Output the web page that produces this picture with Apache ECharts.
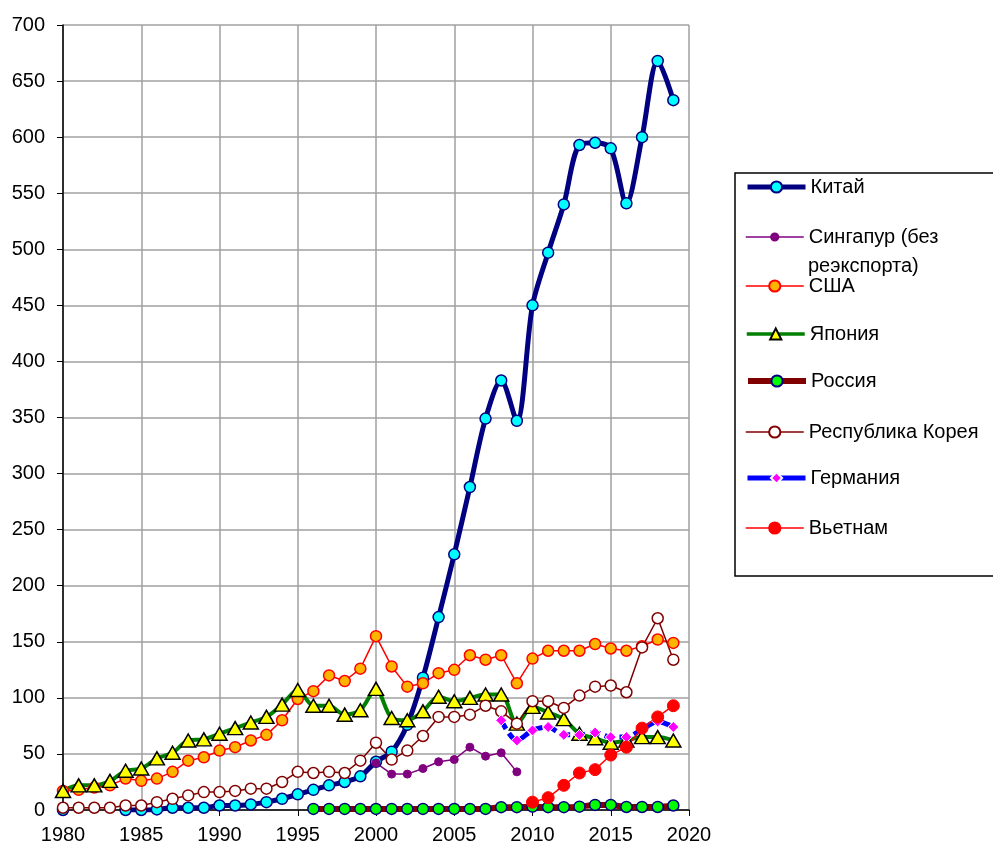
<!DOCTYPE html>
<head>
    <meta charset="utf-8">
    <title>ECharts</title>
</head>
<body style="margin:0">
    <div id="main" style="width:993px;height:845px"></div>
    <script src="https://cdn.jsdelivr.net/npm/echarts@6/dist/echarts.min.js"></script>
    <script type="text/javascript">

    // данные по годам (null = нет данных)
    var xTicks = [1980, 1985, 1990, 1995, 2000, 2005, 2010, 2015, 2020];

    var chinaStart = 1980;
    var china = [0, null, null, null, 0, 0, 0.5, 2, 2, 2, 4, 4, 5, 7, 10, 14, 18, 22, 25, 30,
                 43, 52, 76, 118, 172, 228, 288, 349, 383, 347, 450, 497, 540, 593, 595, 590, 541, 600, 668, 633];

    var singaporeStart = 2000;
    var singapore = [42, 32, 32, 37, 43, 45, 56, 48, 51, 34];

    var usaStart = 1980;
    var usa = [17, 18, 20, 22, 28, 26, 28, 34, 44, 47, 53, 56, 62, 67, 80, 99, 106, 120, 115, 126,
               155, 128, 110, 113, 122, 125, 138, 134, 138, 113, 135, 142, 142, 142, 148, 144, 142, 146, 152, 149];

    var japanStart = 1980;
    var japan = [17, 22, 22, 26, 35, 37, 46, 51, 62, 63, 68, 73, 78, 83, 94, 107, 93, 93, 85, 89,
                 108, 82, 80, 88, 101, 97, 100, 103, 103, 77, 92, 87, 81, 68, 64, 60, 62, 65, 65, 62];

    var russiaStart = 1996;
    var russia = [1, 1, 1, 1, 1, 1, 1, 1, 1, 1, 1, 1, 2.5, 2.5, 3, 2.5, 2.5, 3, 4.5, 4.5, 2.7, 2.7, 2.7, 4];

    var koreaStart = 1980;
    var korea = [2, 2, 2, 2, 4, 4, 7, 10, 13, 16, 16, 17, 19, 19, 25, 34, 33, 34, 33, 44,
                 60, 45, 53, 66, 83, 83, 85, 93, 88, 77, 97, 97, 91, 102, 110, 111, 105, 145, 171, 134];

    var germanyStart = 2008;
    var germany = [80, 62, 71, 74, 67, 67, 69, 65, 65, 72, 79, 74];

    var vietnamStart = 2010;
    var vietnam = [7, 11, 22, 33, 36, 49, 56, 73, 83, 93];

    function pairs(start, arr) {
        return arr.map(function (v, i) { return [start + i, v]; });
    }

    var FONT = 'Liberation Sans, Arial, sans-serif';

    var myChart = echarts.init(document.getElementById('main'));

    var names = ['Китай', 'Сингапур (без реэкспорта)', 'США', 'Япония', 'Россия',
                 'Республика Корея', 'Германия', 'Вьетнам'];
    var legendY = [187, 237, 286, 334, 381, 432, 478, 528];
    var legendLineW = [5, 1.5, 1.5, 3.5, 6, 1.5, 5, 1.5];
    var legendMark = [14, 9, 14, 14, 14, 14, 14, 14];

    var legends = names.map(function (n, i) {
        var l = {
            data: [n],
            left: 745,
            top: legendY[i] - 12,
            padding: 0,
            itemWidth: 58,
            itemHeight: legendMark[i],
            selectedMode: false,
            lineStyle: { width: legendLineW[i], type: 'solid' },
            textStyle: { fontFamily: FONT, fontSize: 20, color: '#000', lineHeight: 24 }
        };
        if (i === 1) {
            l.formatter = 'Сингапур (без';
        }
        return l;
    });

    var option = {
        animation: false,
        backgroundColor: '#fff',
        grid: { left: 63, top: 25, right: 304, bottom: 34 },
        legend: legends,
        graphic: [{
            type: 'rect',
            shape: { x: 735, y: 173, width: 270, height: 403 },
            style: { fill: 'none', stroke: '#000', lineWidth: 1.5 },
            z: -1
        }, {
            type: 'text',
            left: 808,
            top: 256,
            style: { text: 'реэкспорта)', font: '20px ' + FONT, fill: '#000' }
        }],
        xAxis: {
            type: 'value',
            min: xTicks[0],
            max: xTicks[xTicks.length - 1],
            interval: 5,
            axisLine: { lineStyle: { color: '#000', width: 1.5 } },
            axisTick: { show: true, length: 6, lineStyle: { color: '#000' } },
            axisLabel: { fontFamily: FONT, fontSize: 20, color: '#000', margin: 15,
                         formatter: function (v) { return String(v); } },
            splitLine: { show: true, lineStyle: { color: '#a0a0a0', width: 1.5 } }
        },
        yAxis: {
            type: 'value',
            min: 0,
            max: 700,
            interval: 50,
            axisLine: { show: true, lineStyle: { color: '#000', width: 1.5 } },
            axisTick: { show: true, length: 6, lineStyle: { color: '#000' } },
            axisLabel: { fontFamily: FONT, fontSize: 20, color: '#000', margin: 18 },
            splitLine: { show: true, lineStyle: { color: '#a0a0a0', width: 1.5 } }
        },
        series: [
            {
                name: names[0], type: 'line', data: pairs(chinaStart, china), smooth: 0.3,
                symbol: 'circle', symbolSize: 11, z: 3,
                lineStyle: { color: '#000080', width: 5 },
                itemStyle: { color: '#00ffff', borderColor: '#000080', borderWidth: 1.5 }
            },
            {
                name: names[1], type: 'line', data: pairs(singaporeStart, singapore),
                symbol: 'circle', symbolSize: 8,
                lineStyle: { color: '#800080', width: 1.5 },
                itemStyle: { color: '#800080', borderColor: '#800080', borderWidth: 1 }
            },
            {
                name: names[2], type: 'line', data: pairs(usaStart, usa),
                symbol: 'circle', symbolSize: 11,
                lineStyle: { color: '#ff0000', width: 1.5 },
                itemStyle: { color: '#ffb400', borderColor: '#ff0000', borderWidth: 1.5 }
            },
            {
                name: names[3], type: 'line', data: pairs(japanStart, japan), smooth: 0.3,
                symbol: 'triangle', symbolSize: [15, 13],
                lineStyle: { color: '#008000', width: 4 },
                itemStyle: { color: '#ffff00', borderColor: '#000', borderWidth: 1.5 }
            },
            {
                name: names[4], type: 'line', data: pairs(russiaStart, russia), smooth: 0.3,
                symbol: 'circle', symbolSize: 11,
                lineStyle: { color: '#800000', width: 6 },
                itemStyle: { color: '#00ff00', borderColor: '#000080', borderWidth: 1.5 }
            },
            {
                name: names[5], type: 'line', data: pairs(koreaStart, korea),
                symbol: 'circle', symbolSize: 11,
                lineStyle: { color: '#800000', width: 1.5 },
                itemStyle: { color: '#ffffff', borderColor: '#800000', borderWidth: 1.5 }
            },
            {
                name: names[6], type: 'line', data: pairs(germanyStart, germany), smooth: 0.3,
                symbol: 'diamond', symbolSize: 11,
                lineStyle: { color: '#0000ff', width: 5, type: [10, 5] },
                itemStyle: { color: '#ff00ff', borderColor: '#ffffff', borderWidth: 1 }
            },
            {
                name: names[7], type: 'line', data: pairs(vietnamStart, vietnam),
                symbol: 'circle', symbolSize: 12,
                lineStyle: { color: '#ff0000', width: 1.5 },
                itemStyle: { color: '#ff0000', borderColor: '#ff0000', borderWidth: 1 }
            }
        ]
    };

    myChart.setOption(option);
    </script>
</body>
